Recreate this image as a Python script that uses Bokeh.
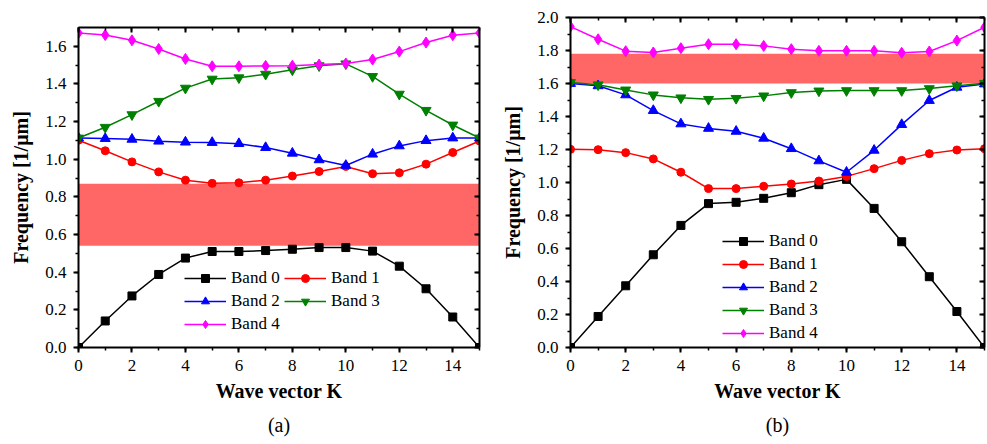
from bokeh.plotting import figure
from bokeh.models import (Range1d, SingleIntervalTicker, LinearAxis, Legend, LegendItem,
                          BoxAnnotation, Title, NumeralTickFormatter)
from bokeh.layouts import row
from bokeh.embed import file_html
from bokeh.resources import INLINE

# ---------------- data ----------------
k = list(range(16))
labels = ["Band 0", "Band 1", "Band 2", "Band 3", "Band 4"]

a_band0 = [0.0, 0.141, 0.274, 0.388, 0.475, 0.510, 0.510, 0.515, 0.522, 0.531, 0.531, 0.512, 0.432, 0.312, 0.162, 0.0]
a_band1 = [1.101, 1.045, 0.986, 0.933, 0.889, 0.872, 0.875, 0.889, 0.911, 0.935, 0.962, 0.923, 0.928, 0.974, 1.036, 1.097]
a_band2 = [1.113, 1.110, 1.106, 1.096, 1.091, 1.089, 1.083, 1.062, 1.032, 0.997, 0.967, 1.027, 1.071, 1.099, 1.113, 1.113]
a_band3 = [1.113, 1.170, 1.237, 1.308, 1.378, 1.426, 1.433, 1.452, 1.475, 1.497, 1.507, 1.440, 1.346, 1.260, 1.182, 1.113]
a_band4 = [1.671, 1.660, 1.632, 1.586, 1.533, 1.494, 1.494, 1.496, 1.497, 1.503, 1.509, 1.530, 1.572, 1.620, 1.659, 1.671]
a_gap = [0.54, 0.87]

b_band0 = [0.0, 0.188, 0.374, 0.562, 0.740, 0.872, 0.880, 0.904, 0.938, 0.987, 1.019, 0.843, 0.641, 0.429, 0.218, 0.0]
b_band1 = [1.201, 1.199, 1.181, 1.143, 1.062, 0.963, 0.963, 0.977, 0.991, 1.009, 1.037, 1.084, 1.134, 1.175, 1.197, 1.205]
b_band2 = [1.600, 1.586, 1.531, 1.436, 1.355, 1.328, 1.310, 1.268, 1.205, 1.131, 1.062, 1.195, 1.351, 1.497, 1.577, 1.597]
b_band3 = [1.606, 1.592, 1.561, 1.531, 1.513, 1.504, 1.510, 1.525, 1.545, 1.555, 1.557, 1.557, 1.557, 1.569, 1.586, 1.601]
b_band4 = [1.945, 1.868, 1.796, 1.788, 1.814, 1.838, 1.838, 1.828, 1.808, 1.798, 1.798, 1.798, 1.786, 1.794, 1.860, 1.941]
b_gap = [1.60, 1.78]

colors = ["black", "#FF0000", "#0000FF", "#008000", "#FF00FF"]
markers = ["square", "circle", "triangle", "inverted_triangle", "diamond"]
msizes = [8, 8, 10, 10, 11]

FONT = "'Liberation Serif', 'Times New Roman', 'DejaVu Serif', serif"


def style_axis(ax, show_labels=True, inward=False):
    ax.axis_line_width = 2
    ax.axis_line_color = "black"
    ax.major_tick_line_width = 2
    ax.minor_tick_line_width = 1.5
    ax.major_tick_line_color = "black"
    ax.minor_tick_line_color = "black"
    if inward:
        ax.major_tick_in = 5
        ax.major_tick_out = 0
        ax.minor_tick_in = 3
        ax.minor_tick_out = 0
    else:
        ax.major_tick_in = 0
        ax.major_tick_out = 5
        ax.minor_tick_in = 0
        ax.minor_tick_out = 3
    if show_labels:
        ax.major_label_text_font = FONT
        ax.major_label_text_font_size = "17px"
        ax.major_label_text_color = "black"
        ax.major_label_standoff = 7
        ax.axis_label_text_font = FONT
        ax.axis_label_text_font_size = "20px"
        ax.axis_label_text_font_style = "bold"
        ax.axis_label_text_color = "black"
    else:
        ax.major_label_text_font_size = "1px"
        ax.major_label_text_color = None
        ax.major_label_text_alpha = 0
        ax.major_label_standoff = 0


def make_panel(series, gap, ymax, width, height, bl, bt, br, bb, legend_loc, ncols, tag):
    p = figure(width=width, height=height, x_range=Range1d(0, 15), y_range=Range1d(0, ymax),
               output_backend="svg", toolbar_location=None,
               min_border_left=bl, min_border_top=bt, min_border_right=br, min_border_bottom=bb)
    p.xgrid.visible = False
    p.ygrid.visible = False
    p.outline_line_color = None
    p.background_fill_color = "white"

    xt = SingleIntervalTicker(interval=2, num_minor_ticks=2)
    yt = SingleIntervalTicker(interval=0.2, num_minor_ticks=2)
    p.xaxis.ticker = xt
    p.yaxis.ticker = yt
    p.yaxis.formatter = NumeralTickFormatter(format="0.0")
    p.xaxis.axis_label = "Wave vector K"
    p.yaxis.axis_label = "Frequency [1/\u03bcm]"
    style_axis(p.xaxis[0])
    style_axis(p.yaxis[0])
    p.xaxis.axis_label_standoff = 6
    p.yaxis.axis_label_standoff = 10

    top = LinearAxis(ticker=SingleIntervalTicker(interval=2, num_minor_ticks=2))
    style_axis(top, show_labels=False, inward=True)
    p.add_layout(top, "above")
    right = LinearAxis(ticker=SingleIntervalTicker(interval=0.2, num_minor_ticks=2))
    style_axis(right, show_labels=False, inward=True)
    p.add_layout(right, "right")

    p.add_layout(BoxAnnotation(bottom=gap[0], top=gap[1], fill_color="#FF6666", fill_alpha=1.0,
                               line_color=None, level="underlay"))

    items = []
    for ys, c, m, s, lab in zip(series, colors, markers, msizes, labels):
        lr = p.line(k, ys, line_color=c, line_width=1.5)
        sr = p.scatter(k, ys, marker=m, size=s, fill_color=c, line_color=c)
        items.append(LegendItem(label=lab, renderers=[lr, sr]))

    leg = Legend(items=items, location=legend_loc, orientation="horizontal", ncols=ncols,
                 glyph_width=42, glyph_height=20, label_height=20, label_width=50,
                 label_standoff=5, spacing=3, padding=0, margin=0,
                 border_line_color=None, background_fill_alpha=0,
                 label_text_font=FONT, label_text_font_size="17px", label_text_color="black")
    p.add_layout(leg, "center")

    # panel tag "(a)"/"(b)" below the x axis title
    p.add_layout(Title(text=tag, align="center", text_font=FONT, text_font_size="20px",
                       text_font_style="normal", text_color="black", standoff=15), "below")
    return p


# panel (a) sits 10px lower than panel (b): shift it with a top margin
pa = make_panel([a_band0, a_band1, a_band2, a_band3, a_band4], a_gap, 1.7,
                490, 433, 78, 17, 11, 95, (106, 13), 2, "(a)")
pa.margin = (10, 0, 0, 0)
pb = make_panel([b_band0, b_band1, b_band2, b_band3, b_band4], b_gap, 2.0,
                497, 443, 80, 17, 3, 96, (152, 4), 1, "(b)")

layout = row(pa, pb)
open("out.html", "w").write(file_html(layout, INLINE))
